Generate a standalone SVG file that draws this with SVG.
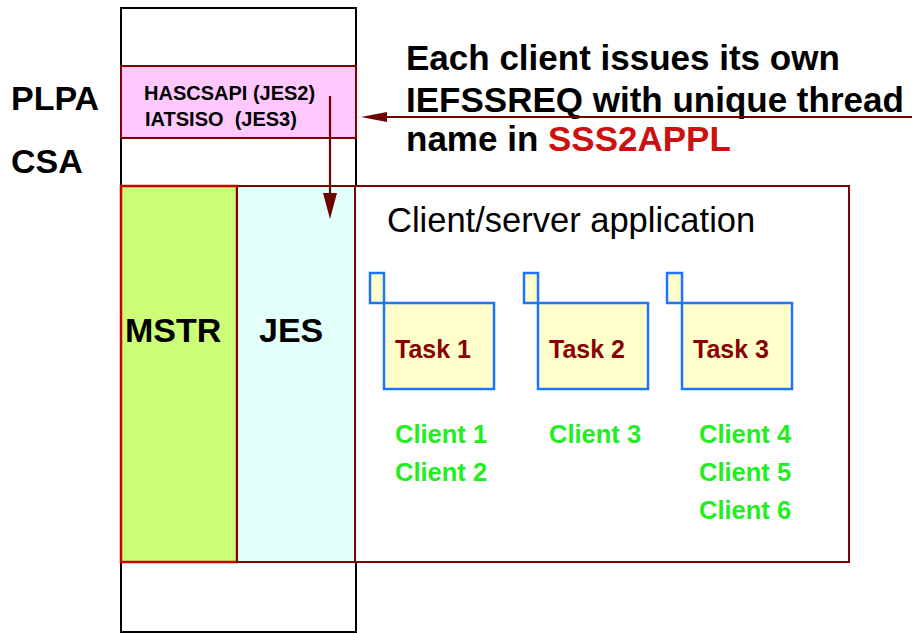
<svg xmlns="http://www.w3.org/2000/svg" width="912" height="633" viewBox="0 0 912 633">
<style>
text{font-family:"Liberation Sans",Arial,sans-serif}
.big{font-size:34px;font-weight:bold;fill:#000}
.head{font-size:35px;font-weight:bold;fill:#000}
.task{font-size:25px;font-weight:bold;fill:#8b0000}
.cli{font-size:25.5px;font-weight:bold;fill:#22ee22}
.tb{fill:#ffffcc;stroke:#1a75ff;stroke-width:2.5}
.conn{stroke:#6e0000;stroke-width:2.2;fill:none}
.head-a{fill:#6e0000}
.sub{font-size:20px;font-weight:bold;fill:#000}
</style>
<g id="column">
<rect x="121" y="8" width="235" height="624" fill="#fff" stroke="#000" stroke-width="2"/>
</g>
<g id="plpa">
<rect x="121" y="66" width="235" height="72" fill="#ffc8ff" stroke="#800000" stroke-width="2"/>
<text x="144" y="100" class="sub">HASCSAPI (JES2)</text>
<text x="145" y="126" class="sub" xml:space="preserve">IATSISO  (JES3)</text>
</g>
<g id="labels">
<text x="11" y="110" class="big">PLPA</text>
<text x="11" y="173" class="big">CSA</text>
<text x="406" y="70" class="head">Each client issues its own</text>
<text x="406" y="112" class="head">IEFSSREQ with unique thread</text>
<text x="406" y="151" class="head">name in <tspan fill="#cc1111">SSS2APPL</tspan></text>
</g>
<g id="app">
<rect x="355" y="186" width="494" height="376" fill="#fff" stroke="#800000" stroke-width="2"/>
<text x="387" y="232" font-size="34.5" fill="#000">Client/server application</text>
</g>
<g id="mstr">
<rect x="121" y="186" width="116" height="376" fill="#ccff77" stroke="#cc0000" stroke-width="2.5"/>
<text x="125" y="342" class="big">MSTR</text>
</g>
<g id="jes">
<rect x="237" y="186" width="118" height="376" fill="#e2fffa" stroke="#800000" stroke-width="2"/>
<text x="259" y="342" class="big" font-size="35">JES</text>
</g>
<g id="task1">
<rect x="370" y="273" width="14" height="30" class="tb"/>
<rect x="384" y="303" width="110" height="86" class="tb"/>
<text x="395" y="358" class="task">Task 1</text>
</g>
<g id="task2">
<rect x="524" y="273" width="14" height="30" class="tb"/>
<rect x="538" y="303" width="110" height="86" class="tb"/>
<text x="549" y="358" class="task">Task 2</text>
</g>
<g id="task3">
<rect x="667" y="273" width="15" height="30" class="tb"/>
<rect x="682" y="303" width="110" height="86" class="tb"/>
<text x="693" y="358" class="task">Task 3</text>
</g>
<g id="clients">
<text x="395" y="443" class="cli">Client 1</text>
<text x="395" y="481" class="cli">Client 2</text>
<text x="549" y="443" class="cli">Client 3</text>
<text x="699" y="443" class="cli">Client 4</text>
<text x="699" y="481" class="cli">Client 5</text>
<text x="699" y="519" class="cli">Client 6</text>
</g>
<g id="connectors">
<line x1="912" y1="117" x2="385" y2="117" class="conn"/>
<polygon points="361,117 387,112 387,122" class="head-a"/>
<line x1="330" y1="96" x2="330" y2="195" class="conn"/>
<polygon points="330,219 323,193 337,193" class="head-a"/>
</g>
</svg>
